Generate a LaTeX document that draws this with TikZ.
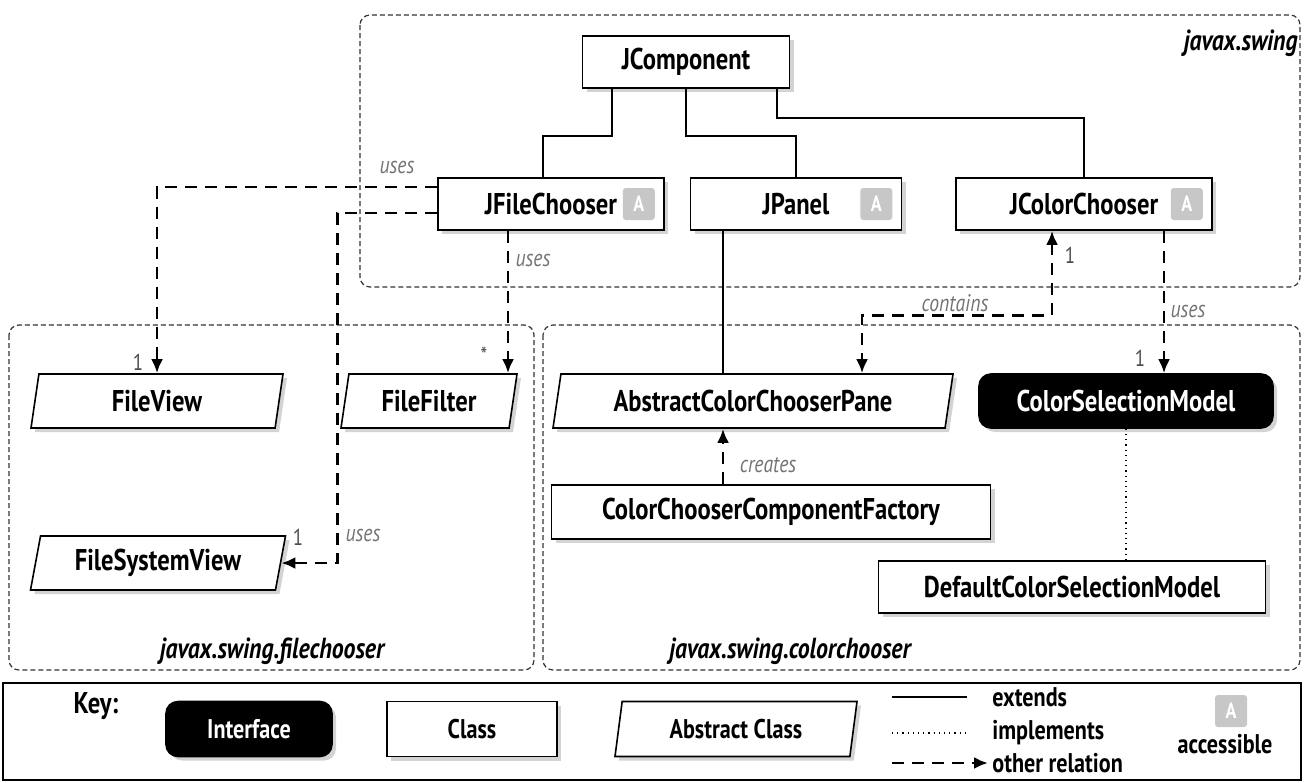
\documentclass[tikz,border=0pt]{standalone}
\usepackage{fontspec}
\setmainfont{PT Sans}[FakeStretch=0.82]
\usetikzlibrary{shapes.geometric,shadows,arrows.meta}

\begin{document}
\begin{tikzpicture}[x=0.5pt, y=-0.5pt, >={Latex[length=7pt,width=6pt]},
	every node/.style={font=\fontsize{15}{17}\selectfont\bfseries, inner sep=0pt},
	cls/.style={draw, fill=white, line width=0.8pt, minimum height=26pt,
		drop shadow={shadow xshift=2pt, shadow yshift=-2pt, opacity=0.35}},
	abscls/.style={cls, trapezium, trapezium left angle=70, trapezium right angle=110,
		trapezium stretches body},
	iface/.style={cls, fill=black, text=white, rounded corners=6pt},
	badge/.style={fill=black!22, text=white, rounded corners=1.5pt, minimum size=16pt,
		font=\fontsize{11}{11}\selectfont\bfseries},
	pkg/.style={draw=black!80, dash pattern=on 2.5pt off 1.5pt, line width=0.6pt, rounded corners=5pt},
	pkgname/.style={font=\fontsize{14.5}{17}\selectfont\bfseries\itshape},
	ext/.style={line width=0.7pt},
	impl/.style={line width=0.6pt, dotted},
	rel/.style={line width=1.4pt, dash pattern=on 6pt off 4pt, ->},
	lbl/.style={font=\fontsize{12}{14}\selectfont\itshape, text=black!55},
	mult/.style={font=\fontsize{11.5}{12}\selectfont, text=black!70},
	keytxt/.style={font=\fontsize{13.5}{15}\selectfont\bfseries}]
	\useasboundingbox (0,0) rectangle (1304,782);
	% packages
	\draw[pkg] (360,15) rectangle (1300,287);
	\node[pkgname, anchor=east] (swing) at (1298,43) {javax.swing};
	\draw[pkg] (9,325) rectangle (534,670);
	\node[pkgname] (fchooser) at (272,651) {javax.swing.filechooser};
	\draw[pkg] (543,325) rectangle (1300,670);
	\node[pkgname] (cchooser) at (790,651) {javax.swing.colorchooser};
	% javax.swing
	\node[cls, minimum width=103.5pt] (jcomp) at (686,62) {JComponent};
	\node[cls, minimum width=113pt] (jfc) at (551,204) {JFileChooser\hspace{10pt}};
	\node[cls, minimum width=105.5pt] (jpanel) at (796,204) {JPanel};
	\node[cls, minimum width=128pt] (jcc) at (1084,204) {JColorChooser};
	\node[badge] (jfcA) at ([xshift=-13pt]jfc.east) {A};
	\node[badge] (jpanelA) at ([xshift=-13pt]jpanel.east) {A};
	\node[badge] (jccA) at ([xshift=-13pt]jcc.east) {A};
	% javax.swing.filechooser
	\node[abscls, minimum width=126pt, minimum height=27pt] (fview) at (157,401) {FileView};
	\node[abscls, minimum width=88pt, minimum height=27pt] (ffilter) at (429,401) {FileFilter};
	\node[abscls, minimum width=127.5pt, minimum height=27pt] (fsview) at (158,563) {FileSystemView};
	% javax.swing.colorchooser
	\node[abscls, minimum width=200pt, minimum height=27pt] (acp) at (753,401) {AbstractColorChooserPane};
	\node[iface, minimum width=147pt, minimum height=27pt] (csm) at (1126,401) {ColorSelectionModel};
	\node[cls, minimum width=219.5pt, minimum height=27pt] (ccf) at (771,512) {ColorChooserComponentFactory};
	\node[cls, minimum width=193.5pt] (dcsm) at (1072,587) {DefaultColorSelectionModel};
	% extends
	\draw[ext] ([xshift=-37pt]jcomp.south) -- ++(0,47) -| ([xshift=-4pt]jfc.north);
	\draw[ext] (jcomp.south) -- ++(0,47) -| (jpanel.north);
	\draw[ext] ([xshift=45.5pt]jcomp.south) -- ++(0,29) -| (jcc.north);
	\draw[ext] ([xshift=-36.5pt]jpanel.south) -- ([xshift=-36.5pt]jpanel.south |- acp.north);
	% implements
	\draw[impl] (csm.south) -- (csm.south |- dcsm.north);
	% other relations
	\draw[rel] ([yshift=8.5pt]jfc.west) -| (fview.north);
	\draw[rel] ([yshift=-4.5pt]jfc.west) -- ++(-100,0) |- (fsview.east);
	\draw[rel] ([xshift=-21.5pt]jfc.south) -- ([xshift=-21.5pt]jfc.south |- ffilter.north);
	\draw[rel, <->] ([xshift=-16pt]jcc.south) -- ++(0,85) -| ([xshift=54.5pt]acp.north);
	\draw[rel] ([xshift=40pt]jcc.south) -- ([xshift=40pt]jcc.south |- csm.north);
	\draw[rel] ([xshift=-24pt]ccf.north) -- ([xshift=-24pt]ccf.north |- acp.south);
	% labels
	\node[lbl] (u1) at (397,167) {uses};
	\node[lbl] (u2) at (533,260) {uses};
	\node[lbl] (u3) at (363,535) {uses};
	\node[lbl] (u4) at (1188,311) {uses};
	\node[lbl] (cont) at (955,303) {contains};
	\node[lbl] (crt) at (768,465) {creates};
	\node[mult] (m1) at (138,362) {1};
	\node[mult] (m2) at (484,355) {*};
	\node[mult] (m3) at (298,537) {1};
	\node[mult] (m4) at (1070,255) {1};
	\node[mult] (m5) at (1140,358) {1};
	% key
	\draw[line width=1.2pt] (3,683) rectangle (1301,780);
	\node (key) at (96,706) {Key:};
	\node[iface, keytxt, minimum width=83pt, minimum height=27.5pt] (kif) at (249,729) {Interface};
	\node[cls, keytxt, minimum width=85pt, minimum height=27.5pt] (kcls) at (472,729) {Class};
	\node[abscls, keytxt, minimum width=121pt, minimum height=27.5pt] (kabs) at (736,729) {Abstract Class};
	\node[keytxt, anchor=west] (kext) at (992,697) {extends};
	\node[keytxt, anchor=west] (kimpl) at (992,733) {implements};
	\node[keytxt, anchor=west] (krel) at (992,763) {other relation};
	\draw[ext] ([xshift=-50pt]kext.west) -- ([xshift=-12.5pt]kext.west);
	\draw[impl] ([xshift=-50pt]kimpl.west) -- ([xshift=-12.5pt]kimpl.west);
	\draw[rel] ([xshift=-50pt]krel.west) -- ([xshift=-2pt]krel.west);
	\node[badge] (kbadge) at (1231,711) {A};
	\node[keytxt] (kacc) at (1225,744) {accessible};
\end{tikzpicture}
\end{document}
